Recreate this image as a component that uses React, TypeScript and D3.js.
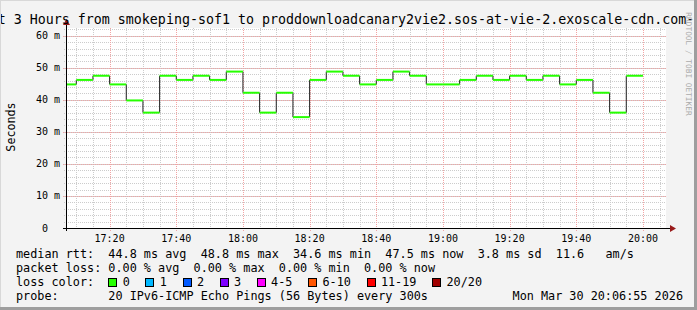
import React from "react";
import * as d3 from "d3";

// ---- data ----
const endTimes = [
  "17:10","17:15","17:20","17:25","17:30","17:35","17:40","17:45","17:50","17:55",
  "18:00","18:05","18:10","18:15","18:20","18:25","18:30","18:35","18:40","18:45",
  "18:50","18:55","19:00","19:05","19:10","19:15","19:20","19:25","19:30","19:35",
  "19:40","19:45","19:50","19:55","20:00",
];
const medianMs = [
  44.8, 46.2, 47.5, 44.8, 39.8, 36.0, 47.5, 46.2, 47.5, 46.2,
  48.8, 42.2, 36.0, 42.2, 34.6, 46.2, 48.8, 47.5, 44.8, 46.2,
  48.8, 47.5, 44.8, 44.8, 46.2, 47.5, 46.2, 47.5, 46.2, 47.5,
  44.8, 46.2, 42.2, 36.0, 47.5,
];
const xLabels = ["17:20","17:40","18:00","18:20","18:40","19:00","19:20","19:40","20:00"];
const yMajor = [0, 10, 20, 30, 40, 50, 60];
const lossLabels = ["0","1","2","3","4-5","6-10","11-19","20/20"];
const lossColors = ["#26ff00","#00b8ff","#0059ff","#7e00ff","#ff00ff","#ff5500","#ff0000","#a00000"];

const titleText = "Last 3 Hours from smokeping-sof1 to proddownloadcanary2vie2.sos-at-vie-2.exoscale-cdn.com-ipv6";
const legendRtt = "median rtt:  44.8 ms avg  48.8 ms max  34.6 ms min  47.5 ms now  3.8 ms sd  11.6   am/s";
const legendLoss = "packet loss: 0.00 % avg  0.00 % max  0.00 % min  0.00 % now";
const probeText = "probe:       20 IPv6-ICMP Echo Pings (56 Bytes) every 300s";
const dateText = "Mon Mar 30 20:06:55 2026";

const W = 697, H = 310;
const L = 66, R = 666, T = 28, B = 228;
const MONO = "'DejaVu Sans Mono', monospace";

const day = (hm: string, s = 0) => {
  const [h, m] = hm.split(":").map(Number);
  return new Date(2026, 2, 30, h, m, s);
};

export default function App() {
  const tEnd = day("20:06", 55);
  const tStart = new Date(tEnd.getTime() - 3 * 3600 * 1000);
  const x = d3.scaleTime().domain([tStart, tEnd]).range([L, R]);
  const y = d3.scaleLinear().domain([0, 62.4]).range([B, T]);

  const minorX = d3.timeMinute.every(5)!.range(tStart, tEnd);
  const majorX = xLabels.map((s) => day(s));
  const minorY = d3.range(0, 62.4, 2);

  const segs = endTimes.map((s, i) => {
    const t2 = day(s);
    const t1 = new Date(t2.getTime() - 5 * 60 * 1000);
    return { x1: Math.max(L, x(t1)), x2: x(t2), y: y(medianMs[i]) };
  });

  const charW = 7.12;
  const legendFs = 11.8;

  let bx = 108.3;
  const boxes = lossLabels.map((lab, i) => {
    const cur = bx;
    bx = bx + 37.1 + (lab.length - 1) * charW;
    return { x: cur, lab, color: lossColors[i] };
  });

  return (
    <svg width={W} height={H} style={{ position: "absolute", left: 0, top: 0, display: "block" }}>
      <rect x={0} y={0} width={W} height={H} fill="#f3f3f3" />
      <rect x={L} y={T} width={R - L} height={B - T} fill="#ffffff" />

      {minorX.map((t, i) => (
        <line key={"mx" + i} x1={Math.round(x(t)) + 0.5} x2={Math.round(x(t)) + 0.5} y1={T} y2={B + 2}
          stroke="#cccccc" strokeWidth={1} strokeDasharray="1,1" shapeRendering="crispEdges" />
      ))}
      {minorY.map((v, i) => (
        <line key={"my" + i} x1={L - 2} x2={R} y1={Math.round(y(v)) + 0.5} y2={Math.round(y(v)) + 0.5}
          stroke="#cccccc" strokeWidth={1} strokeDasharray="1,1" shapeRendering="crispEdges" />
      ))}
      {majorX.map((t, i) => (
        <line key={"Mx" + i} x1={Math.round(x(t)) + 0.5} x2={Math.round(x(t)) + 0.5} y1={T} y2={B + 3}
          stroke="#f2a4a4" strokeWidth={1} strokeDasharray="1,1" shapeRendering="crispEdges" />
      ))}
      {yMajor.map((v, i) => (
        <line key={"My" + i} x1={L - 3} x2={R} y1={Math.round(y(v)) + 0.5} y2={Math.round(y(v)) + 0.5}
          stroke="#f2a4a4" strokeWidth={1} strokeDasharray="1,1" shapeRendering="crispEdges" />
      ))}

      {segs.map((s, i) =>
        i < segs.length - 1 ? (
          <line key={"v" + i} x1={s.x2} x2={s.x2} y1={s.y} y2={segs[i + 1].y}
            stroke="#202020" strokeWidth={1} />
        ) : null
      )}
      {segs.map((s, i) => (
        <line key={"g" + i} x1={s.x1} x2={s.x2} y1={s.y} y2={s.y} stroke={lossColors[0]} strokeWidth={2} />
      ))}

      <line x1={L - 3} x2={R + 5} y1={B + 0.5} y2={B + 0.5} stroke="#000" strokeWidth={1} shapeRendering="crispEdges" />
      <line x1={L + 0.5} x2={L + 0.5} y1={B + 3} y2={T - 4} stroke="#000" strokeWidth={1} shapeRendering="crispEdges" />
      <path d={`M${R + 4},${B - 3} L${R + 10},${B + 0.5} L${R + 4},${B + 4} Z`} fill="#991a1a" />
      <path d={`M${L - 3},${T - 3} L${L + 0.5},${T - 9} L${L + 4},${T - 3} Z`} fill="#991a1a" />

      {yMajor.map((v, i) => (
        <text key={"yl" + i} x={v === 0 ? 48 : 60} y={y(v)} dy="0.35em" textAnchor="end"
          fontFamily={MONO} fontSize={10} fill="#000">
          {v === 0 ? "0" : `${v} m`}
        </text>
      ))}
      {majorX.map((t, i) => (
        <text key={"xl" + i} x={x(t)} y={241.5} textAnchor="middle" fontFamily={MONO} fontSize={10} fill="#000">
          {xLabels[i]}
        </text>
      ))}

      <text transform="translate(14.5,127) rotate(-90)" textAnchor="middle" fontFamily={MONO} fontSize={11.7} fill="#000">
        Seconds
      </text>

      <text x={350} y={24} textAnchor="middle" fontFamily={MONO} fontSize={13.3} fill="#000">
        {titleText}
      </text>

      <text transform="translate(685.5,64) rotate(90)" textAnchor="middle" fontFamily={MONO} fontSize={7.8} fill="#ababab">
        RRDTOOL / TOBI OETIKER
      </text>

      <g fontFamily={MONO} fontSize={legendFs} fill="#000" style={{ whiteSpace: "pre" }}>
        <text x={16} y={258.3} xmlSpace="preserve">{legendRtt}</text>
        <text x={16} y={272} xmlSpace="preserve">{legendLoss}</text>
        <text x={16} y={285.8} xmlSpace="preserve">loss color:</text>
        <text x={16} y={299.5} xmlSpace="preserve">{probeText}</text>
        <text x={683} y={299.5} textAnchor="end">{dateText}</text>
      </g>
      {boxes.map((b, i) => (
        <g key={"b" + i}>
          <rect x={Math.round(b.x) + 0.5} y={278.5} width={8} height={8} fill={b.color} stroke="#000" strokeWidth={1} />
          <text x={b.x + 14.4} y={285.8} fontFamily={MONO} fontSize={legendFs} fill="#000">{b.lab}</text>
        </g>
      ))}

      <rect x={0} y={0} width={W} height={1} fill="#d8d8d8" />
      <rect x={0} y={0} width={1} height={H} fill="#d8d8d8" />
      <rect x={W - 3} y={0} width={3} height={H} fill="#9e9e9e" />
      <rect x={0} y={H - 3} width={W} height={3} fill="#9e9e9e" />
    </svg>
  );
}
